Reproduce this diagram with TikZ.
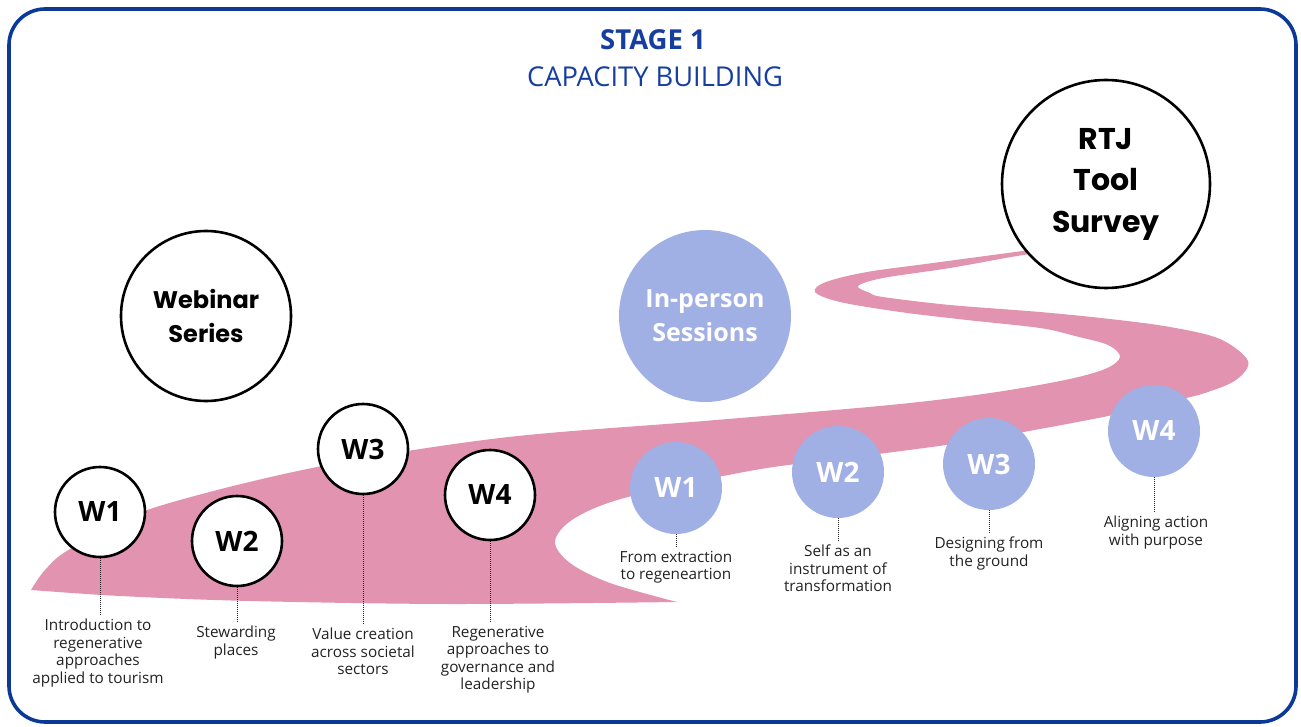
\documentclass[tikz,border=0pt]{standalone}
\usepackage{fontspec}
\setmainfont{Open Sans}
\newfontfamily\popfont{Poppins}
\definecolor{stageblue}{RGB}{22,62,158}
\definecolor{frameblue}{RGB}{10,58,150}
\definecolor{roadpink}{RGB}{226,147,176}
\definecolor{lavender}{RGB}{160,175,228}
\definecolor{labelgray}{RGB}{34,34,34}
\tikzset{
  bigring/.style={circle, draw=black, line width=2.6pt, fill=white, inner sep=0pt,
    align=center, font=\popfont\bfseries\fontsize{24}{34}\selectfont},
  bigdisc/.style={circle, fill=lavender, text=white, inner sep=0pt, align=center,
    font=\bfseries\fontsize{25}{34}\selectfont},
  wring/.style={circle, draw=black, line width=2.6pt, fill=white, minimum size=90pt,
    inner sep=0pt, font=\bfseries\fontsize{28}{30}\selectfont},
  wdisc/.style={circle, fill=lavender, text=white, minimum size=92pt, inner sep=0pt,
    font=\bfseries\fontsize{28}{30}\selectfont},
  wlabel/.style={anchor=north, align=center, inner sep=3pt, text=labelgray,
    font=\fontsize{15.3}{17.5}\selectfont},
  dotline/.style={labelgray, line width=1pt, dash pattern=on 1pt off 1pt}
}
\begin{document}
\begin{tikzpicture}[x=1pt, y=-1pt]
    \useasboundingbox (0,0) rectangle (1301,727);
    \draw[draw=frameblue, line width=3.6pt, rounded corners=36pt]
      (9,9) rectangle (1296,722);

    % title
    \node[text=stageblue, inner sep=0pt, font=\bfseries\fontsize{27.5}{30}\selectfont]
      (stage) at (653,40) {STAGE 1};
    \node[text=stageblue, inner sep=0pt, font=\fontsize{27.3}{30}\selectfont]
      (capacity) at (655,77) {CAPACITY BUILDING};

    % the road
    \fill[roadpink]
      plot[smooth, tension=0.55] coordinates {(31,590) (45,570) (70,549) (147,510)
        (312,468) (500,438) (704,421) (890,405) (990,393) (1065,380) (1105,369)
        (1120,357) (1108,345) (1075,336) (1040,328) (967,320) (900,312) (840,302)
        (815,292) (826,282) (867,272) (933,263) (1060,246)}
      -- plot[smooth, tension=0.55] coordinates {(1060,250) (1017,256) (950,268)
        (883,278) (858,286) (870,293) (883,297) (950,305) (1040,312) (1110,319)
        (1170,327) (1220,339) (1248,361) (1236,380) (1205,393) (1173,401) (1113,415)
        (1040,429) (960,443) (855,457) (755,470) (628,497) (575,518) (555,541)
        (570,563) (610,583) (677,602)}
      -- plot[smooth, tension=0.55] coordinates {(677,602) (450,604) (250,601)
        (120,596) (31,590)} -- cycle;

    % big circles
    \node[bigring, minimum size=170pt] (webinar) at (206,316) {Webinar\\Series};
    \node[bigdisc, minimum size=172pt] (inperson) at (705,316) {In-person\\Sessions};
    \node[bigring, minimum size=208pt, font=\popfont\bfseries\fontsize{30}{41.5}\selectfont]
      (rtj) at (1106,184) {RTJ\\Tool\\Survey};

    % webinar series
    \node[wring] (wa1) at (100,512) {W1}; \node[wring] (wa2) at (237,541) {W2};
    \node[wring] (wa3) at (363,449) {W3}; \node[wring] (wa4) at (490,495) {W4};

    \node[wlabel] (la1) at (98,616) {Introduction to\\regenerative\\approaches\\applied to tourism};
    \node[wlabel] (la2) at (236,623) {Stewarding\\places};
    \node[wlabel] (la3) at (363,625) {Value creation\\across societal\\sectors};
    \node[wlabel] (la4) at (498,623) {Regenerative\\approaches to\\governance and\\leadership};

    % in-person sessions
    \node[wdisc] (wb1) at (676,488) {W1}; \node[wdisc] (wb2) at (838,472) {W2};
    \node[wdisc] (wb3) at (989,464) {W3}; \node[wdisc] (wb4) at (1154,431) {W4};

    \node[wlabel] (lb1) at (676,548) {From extraction\\to regeneartion};
    \node[wlabel] (lb2) at (838,542) {Self as an\\instrument of\\transformation};
    \node[wlabel] (lb3) at (989,534) {Designing from\\the ground};
    \node[wlabel] (lb4) at (1156,513) {Aligning action\\with purpose};

    \foreach \w/\l in {wa1/la1, wa2/la2, wa3/la3, wa4/la4, wb1/lb1, wb2/lb2, wb3/lb3, wb4/lb4}
      \draw[dotline] (\w.south) -- (\w.south |- \l.north);
\end{tikzpicture}
\end{document}
